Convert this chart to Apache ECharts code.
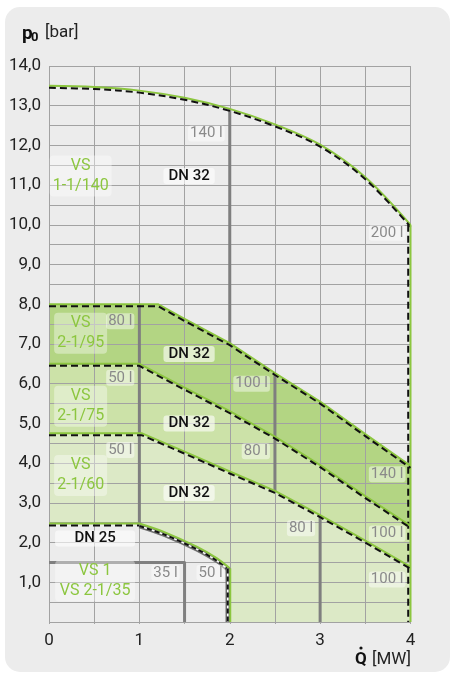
<!DOCTYPE html>
<html><head><meta charset="utf-8">
<script src="https://cdn.jsdelivr.net/npm/echarts@6/dist/echarts.min.js"></script>
<style>
html,body{margin:0;padding:0;background:#fff;}
#panel{position:absolute;left:5px;top:7px;width:445px;height:665px;background:#ececec;border-radius:15px;}
#chart{position:absolute;left:0;top:0;width:452px;height:673px;}
</style></head><body>
<div id="panel"></div>
<div id="chart"></div>
<script>
// ---- data ----
const xTickLabels = ['0', '1', '2', '3', '4'];
const yTickLabels = ['', '1,0', '2,0', '3,0', '4,0', '5,0', '6,0', '7,0', '8,0', '9,0', '10,0', '11,0', '12,0', '13,0', '14,0'];

// upper limit VS 1-1/140 (p0 vs Q)
const curve140 = [[0,13.5],[0.5,13.47],[1,13.38],[1.5,13.2],[2,12.92],[2.5,12.53],[3,12.02],[3.5,11.2],[4,10.0]];
const edge140Right = [[4,10.0],[4,0]];
// upper limit VS 2-1/95
const edge95 = [[0,8],[1.21,8],[1.5,7.63],[2,7.02],[2.5,6.27],[3,5.55],[3.5,4.73],[4,3.93]];
// upper limit VS 2-1/75
const edge75 = [[0,6.5],[1,6.5],[1.5,5.9],[2,5.31],[2.5,4.67],[3,3.95],[3.5,3.17],[4,2.42]];
// upper limit VS 2-1/60
const edge60 = [[0,4.75],[1.03,4.75],[1.5,4.29],[2,3.79],[2.5,3.3],[3,2.69],[3.5,2.05],[4,1.39]];
// DN 25 limit (VS 1 / VS 2-1/35)
const edgeDN25Flat = [[0,2.48],[1,2.48]];
const edgeDN25Curve = [[1,2.48],[1.27,2.27],[1.64,1.89],[1.86,1.6],[2,1.35]];
const edgeDN25Drop = [[2,1.35],[2,0]];

// vessel volume separators
const volumeLines = [
  [[1,8],[1,2.48]],
  [[2,12.92],[2,7.02]],
  [[2.5,6.27],[2.5,3.3]],
  [[3,2.69],[3,0]],
  [[0,1.5],[1.5,1.5],[1.5,0]]
];
const volumeLabels = [
  ['140 l',2,12.3], ['200 l',4,9.8], ['80 l',1,7.57], ['50 l',1,6.15], ['50 l',1,4.33],
  ['100 l',2.5,6.0], ['80 l',2.5,4.3], ['140 l',4,3.72], ['80 l',3,2.36],
  ['100 l',4,2.23], ['100 l',4,1.07], ['35 l',1.5,1.24], ['50 l',2,1.24]
];
const regionLabels = [
  ['VS\n1-1/140',0.35,11.23], ['VS\n2-1/95',0.35,7.27], ['VS\n2-1/75',0.35,5.43],
  ['VS\n2-1/60',0.35,3.69], ['VS 1\nVS 2-1/35',0.51,1.03]
];
const pipeLabels = [
  ['DN 32',1.55,11.23], ['DN 32',1.55,6.75], ['DN 32',1.55,5.0], ['DN 32',1.55,3.25], ['DN 25',0.51,2.1]
];

// ---- styles ----
const GREEN = '#8cc63f';
const DARK = '#b3d583', MID = '#cce2a8', LIGHT = '#dce9c6';
const FONT = 'Roboto';

const chart = echarts.init(document.getElementById('chart'), null, {renderer:'canvas'});
const px = (api, pts) => pts.map(p => api.coord(p));
const rev = a => a.slice().reverse();
function custom(z, build) {
  return {type:'custom', coordinateSystem:'cartesian2d', z, silent:true, clip:false,
    data:[[0,0]], renderItem:(params, api) => build(api)};
}
function poly(api, pts, fill) {
  return {type:'polygon', shape:{points:px(api, pts)}, style:{fill, stroke:null}};
}
function line(api, pts, stroke, width, dash, dx, dy, smooth) {
  return {type:'polyline', x:dx||0, y:dy||0, shape:{points:px(api, pts), smooth:smooth||0},
    style:{stroke, lineWidth:width, lineDash:dash||null, fill:null, lineCap:'butt', lineJoin:'round'}};
}

const fills = custom(1, api => ({type:'group', children:[
  poly(api, edge60.concat([[4,0]]).concat(rev(edgeDN25Drop)).concat(rev(edgeDN25Curve)).concat(rev(edgeDN25Flat)), LIGHT),
  poly(api, edge75.concat(rev(edge60)), MID),
  poly(api, edge95.concat(rev(edge75)), DARK)
]}));

const lines = custom(10, api => {
  const ch = [];
  volumeLines.forEach(l => ch.push(line(api, l, '#7f7f7f', 3)));
  // top curve and right edge
  ch.push(line(api, curve140, GREEN, 2, null, 0, 0, 0.35));
  ch.push(line(api, curve140, '#111', 2, [7,4], 0, 2, 0.35));
  ch.push(line(api, edge140Right, GREEN, 2, null, 0, 0));
  ch.push(line(api, edge140Right, '#111', 2, [7,4], -2.3, 0));
  [edge95, edge75, edge60].forEach(e => {
    ch.push(line(api, e, GREEN, 2, null, 0, 0));
    ch.push(line(api, e, '#111', 2, [7,4], 0, 2));
  });
  // DN 25
  ch.push(line(api, edgeDN25Flat, GREEN, 2, null, 0, 0));
  ch.push(line(api, edgeDN25Flat, '#111', 2, [7,4], 0, 2));
  ch.push(line(api, edgeDN25Curve, '#707070', 4.5, null, 0, 2.5, 0.3));
  ch.push(line(api, edgeDN25Curve, '#ffffff', 1.5, null, 0, 2.5, 0.3));
  ch.push(line(api, edgeDN25Curve, '#111', 2, [5,3], 0, 2.5, 0.3));
  ch.push(line(api, edgeDN25Curve, GREEN, 2, null, 0, 0, 0.3));
  ch.push(line(api, edgeDN25Drop, '#707070', 4.5, null, -2, 0));
  ch.push(line(api, edgeDN25Drop, '#ffffff', 1.5, null, -2, 0));
  ch.push(line(api, edgeDN25Drop, '#111', 2, [5,3], -2, 0));
  ch.push(line(api, edgeDN25Drop, GREEN, 2, null, 0.5, 0));
  return {type:'group', children:ch};
});

const labels = custom(12, api => {
  const ch = [];
  volumeLabels.forEach(([t,x,y]) => {
    const p = api.coord([x,y]);
    ch.push({type:'text', x:p[0]-5, y:p[1], style:{text:t, fill:'#8a8a8a', fontSize:15,
      fontFamily:'"Liberation Sans Narrow", ' + FONT, align:'right', verticalAlign:'middle',
      backgroundColor:'rgba(255,255,255,0.45)', padding:[1,2,0,2], borderRadius:3}});
  });
  regionLabels.forEach(([t,x,y]) => {
    const p = api.coord([x,y]);
    const wide = t.indexOf('VS 1') === 0;
    ch.push({type:'text', x:p[0], y:p[1], style:{text:t, fill:GREEN, fontSize:16, lineHeight:20,
      fontFamily:FONT, align:'center', verticalAlign:'middle', width: wide ? 74 : undefined,
      backgroundColor:'rgba(255,255,255,0.38)', padding:[1,3,0,3], borderRadius:4}});
  });
  pipeLabels.forEach(([t,x,y]) => {
    const p = api.coord([x,y]);
    ch.push({type:'text', x:p[0], y:p[1], style:{text:t, fill:'#111', fontSize:15, fontWeight:500,
      fontFamily:FONT, align:'center', verticalAlign:'middle', width: t==='DN 25'?70:undefined,
      backgroundColor:'rgba(255,255,255,0.6)', padding:[1,5,0,5], borderRadius:3}});
  });
  return {type:'group', children:ch};
});

const axisCommon = {
  type:'value', z:3,
  axisLine:{show:false},
  axisTick:{show:false},
  splitLine:{show:true, lineStyle:{color:'#a2a2a2', width:1}}
};

chart.setOption({
  animation:false,
  grid:{left:49, right:41.5, top:66, bottom:51, containLabel:false},
  xAxis: Object.assign({}, axisCommon, {min:0, max:4, interval:0.5,
    axisTick:{show:true, length:2, lineStyle:{color:'#a2a2a2'}},
    axisLabel:{margin:10, fontSize:17, color:'#222', fontFamily:FONT,
      formatter: v => Number.isInteger(v) ? xTickLabels[v] : ''}}),
  yAxis: Object.assign({}, axisCommon, {min:0, max:14, interval:0.5,
    axisLabel:{margin:8, fontSize:17, color:'#222', fontFamily:FONT,
      formatter: v => Number.isInteger(v) ? yTickLabels[v] : ''}}),
  series:[fills, lines, labels],
  graphic:[
    {type:'text', x:22, y:34, style:{text:'p', fontSize:19, fontWeight:'bold', fill:'#111', fontFamily:FONT, verticalAlign:'middle'}},
    {type:'text', x:31, y:38, style:{text:'0', fontSize:13, fontWeight:'bold', fill:'#111', fontFamily:FONT, verticalAlign:'middle'}},
    {type:'text', x:45, y:33, style:{text:'[bar]', fontSize:17, fill:'#222', fontFamily:FONT, verticalAlign:'middle'}},
    {type:'text', x:355, y:660, style:{text:'Q', fontSize:17, fontWeight:'bold', fill:'#111', fontFamily:FONT, verticalAlign:'middle'}},
    {type:'circle', shape:{cx:361, cy:648, r:1.6}, style:{fill:'#111'}},
    {type:'text', x:372, y:660, style:{text:'[MW]', fontSize:17, fill:'#222', fontFamily:FONT, verticalAlign:'middle'}}
  ]
});
</script>
</body></html>
